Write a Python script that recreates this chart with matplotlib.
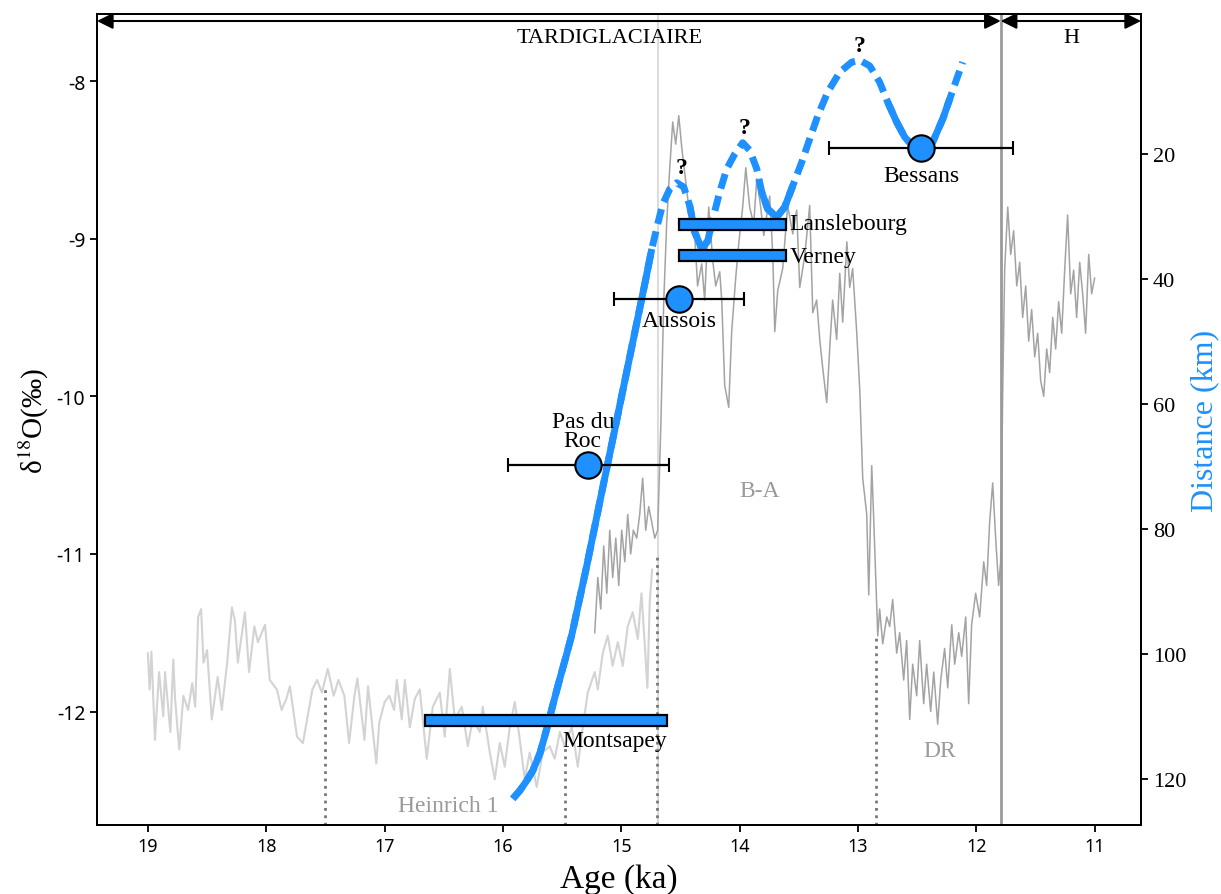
import numpy as np
import matplotlib
matplotlib.use('Agg')
import matplotlib.pyplot as plt

plt.rcParams['mathtext.fontset'] = 'stix'
plt.rcParams['axes.unicode_minus'] = False

BLUE = '#1E90FF'
SERIF = 'Liberation Serif'
SANS = 'Noto Sans'

# d18O record, older part (light grey)
light_age = [19.00, 18.985, 18.97, 18.94, 18.905, 18.87, 18.855, 18.81, 18.785, 18.77,
             18.735, 18.70, 18.66, 18.625, 18.60, 18.575, 18.55, 18.53, 18.50, 18.46,
             18.41, 18.375, 18.33, 18.29, 18.265, 18.24, 18.18, 18.145, 18.10, 18.07,
             18.01, 17.97, 17.91, 17.87, 17.83, 17.80, 17.74, 17.69, 17.65, 17.61,
             17.57, 17.53, 17.48, 17.43, 17.39, 17.34, 17.30, 17.255, 17.23, 17.17,
             17.14, 17.07, 17.045, 17.00, 16.96, 16.92, 16.897, 16.855, 16.829, 16.787,
             16.745, 16.703, 16.644, 16.593, 16.534, 16.492, 16.449, 16.407, 16.348, 16.297,
             16.255, 16.196, 16.171, 16.111, 16.069, 16.027, 15.985, 15.943, 15.900, 15.858,
             15.816, 15.774, 15.715, 15.664, 15.605, 15.563, 15.520, 15.478, 15.419, 15.368,
             15.326, 15.284, 15.225, 15.199, 15.157, 15.115, 15.073, 15.030, 14.988, 14.946,
             14.904, 14.861, 14.83, 14.80, 14.78, 14.76, 14.74]
light_d18o = [-11.63, -11.86, -11.62, -12.18, -11.75, -12.03, -11.75, -12.13, -11.67, -11.92,
              -12.24, -11.90, -11.99, -11.82, -11.97, -11.40, -11.35, -11.69, -11.61, -12.05,
              -11.78, -11.99, -11.69, -11.34, -11.42, -11.69, -11.37, -11.75, -11.46, -11.56,
              -11.45, -11.80, -11.86, -11.99, -11.92, -11.84, -12.16, -12.20, -12.03, -11.86,
              -11.80, -11.88, -11.73, -11.90, -11.80, -11.90, -12.20, -11.90, -11.79, -12.18,
              -11.84, -12.33, -12.07, -11.94, -11.90, -11.99, -11.80, -12.05, -11.80, -12.10,
              -11.92, -11.86, -12.30, -11.97, -11.88, -12.16, -11.73, -12.05, -11.97, -12.22,
              -12.05, -12.13, -11.97, -12.26, -12.43, -12.20, -12.35, -12.10, -11.94, -12.18,
              -12.43, -12.26, -12.48, -12.26, -12.22, -12.30, -12.13, -12.22, -12.10, -12.35,
              -12.10, -11.88, -11.75, -11.86, -11.63, -11.52, -11.71, -11.56, -11.71, -11.46,
              -11.37, -11.54, -11.25, -11.60, -11.85, -11.30, -11.10]

# d18O record, younger part (dark grey)
dark_age = [15.225, 15.199, 15.174, 15.149, 15.123, 15.098, 15.073, 15.047, 15.022, 14.997,
            14.971, 14.946, 14.921, 14.899, 14.870, 14.845, 14.820, 14.794, 14.769, 14.743,
            14.718, 14.693, 14.667, 14.642, 14.617, 14.591, 14.566, 14.541, 14.515, 14.490,
            14.456, 14.431, 14.380, 14.356, 14.321, 14.296, 14.262, 14.228, 14.203, 14.169,
            14.152, 14.127, 14.093, 14.068, 14.034, 14.008, 13.975, 13.949, 13.916, 13.882,
            13.856, 13.823, 13.797, 13.747, 13.721, 13.704, 13.679, 13.637, 13.595, 13.552,
            13.519, 13.493, 13.451, 13.409, 13.383, 13.350, 13.324, 13.299, 13.265, 13.240,
            13.215, 13.181, 13.155, 13.130, 13.095, 13.071, 13.046, 13.012, 12.986, 12.961,
            12.927, 12.910, 12.885, 12.868, 12.843, 12.834, 12.818, 12.792, 12.758, 12.733,
            12.708, 12.674, 12.649, 12.615, 12.590, 12.564, 12.539, 12.505, 12.480, 12.446,
            12.421, 12.387, 12.361, 12.328, 12.302, 12.269, 12.243, 12.209, 12.184, 12.150,
            12.125, 12.091, 12.066, 12.041, 12.007, 11.973, 11.939, 11.914, 11.889, 11.863,
            11.838, 11.813, 11.796, 11.779, 11.762, 11.736, 11.711, 11.686, 11.660, 11.635,
            11.610, 11.584, 11.559, 11.534, 11.508, 11.483, 11.458, 11.432, 11.407, 11.382,
            11.356, 11.331, 11.306, 11.280, 11.255, 11.230, 11.204, 11.179, 11.154, 11.128,
            11.103, 11.078, 11.052, 11.027, 11.002]
dark_d18o = [-11.50, -11.15, -11.35, -10.95, -11.25, -10.85, -11.15, -10.90, -11.20, -10.85,
             -11.05, -10.75, -11.00, -10.85, -10.90, -10.75, -10.52, -10.85, -10.70, -10.80,
             -10.90, -10.85, -10.20, -9.40, -8.90, -8.55, -8.26, -8.40, -8.22, -8.42,
             -8.64, -8.80, -8.98, -9.30, -9.16, -9.39, -8.80, -9.14, -9.30, -9.21,
             -9.39, -9.93, -10.07, -9.59, -9.25, -9.03, -8.80, -8.55, -8.80, -8.91,
             -8.62, -8.80, -8.98, -8.73, -9.10, -9.59, -9.33, -9.19, -8.79, -8.97,
             -8.82, -9.31, -9.11, -8.79, -9.47, -9.39, -9.64, -9.82, -10.04, -9.70,
             -9.39, -9.64, -9.22, -9.53, -9.02, -9.31, -9.19, -9.59, -9.96, -10.52,
             -10.75, -11.26, -10.44, -10.78, -11.31, -11.52, -11.35, -11.57, -11.40, -11.46,
             -11.29, -11.63, -11.50, -11.80, -11.55, -12.05, -11.70, -11.90, -11.55, -11.95,
             -11.70, -12.00, -11.75, -12.08, -11.80, -11.60, -11.85, -11.45, -11.70, -11.50,
             -11.65, -11.40, -11.95, -11.45, -11.25, -11.40, -11.05, -11.20, -10.80, -10.55,
             -10.90, -11.20, -11.05, -10.00, -9.20, -8.80, -9.10, -8.95, -9.30, -9.15,
             -9.50, -9.30, -9.65, -9.45, -9.75, -9.60, -9.90, -10.00, -9.70, -9.85,
             -9.50, -9.70, -9.40, -9.60, -9.20, -8.85, -9.35, -9.20, -9.50, -9.15,
             -9.35, -9.60, -9.10, -9.35, -9.25]

# glacier front distance curve (km)
blue_age = [15.917, 15.858, 15.799, 15.748, 15.689, 15.630, 15.579, 15.520, 15.470, 15.419,
            15.292, 15.166, 15.039, 14.912, 14.802, 14.743, 14.693, 14.650, 14.591, 14.532,
            14.473, 14.422, 14.380, 14.321, 14.270, 14.228, 14.169, 14.110, 14.042, 13.975,
            13.916, 13.856, 13.814, 13.764, 13.688, 13.620, 13.552, 13.476, 13.409, 13.341,
            13.257, 13.155, 13.054, 12.986, 12.902, 12.818, 12.750, 12.674, 12.606, 12.539,
            12.471, 12.370, 12.285, 12.226, 12.167, 12.117]
blue_dist = [123.2, 121.9, 120.3, 118.7, 116.0, 112.0, 108.2, 104.0, 100.6, 97.0,
             85.9, 74.2, 62.6, 50.9, 40.8, 35.2, 31.2, 28.0, 25.6, 24.6,
             25.3, 28.3, 32.5, 35.2, 33.9, 30.4, 26.1, 22.4, 20.0, 18.2,
             19.4, 22.4, 26.1, 28.8, 30.1, 28.5, 25.1, 21.3, 17.6, 13.9,
             10.1, 6.9, 5.3, 5.0, 5.9, 8.5, 11.7, 14.9, 17.3, 18.7,
             19.2, 18.1, 14.4, 11.2, 8.0, 5.3]
solid_spans = [(15.95, 14.74), (14.43, 14.22), (13.82, 13.55), (12.75, 12.22)]

# dated sites
site_names = ['Pas du\nRoc', 'Aussois', 'Bessans']
site_age = [15.28, 14.51, 12.47]
site_err = [0.68, 0.55, 0.78]
site_dist = [69.8, 43.2, 19.0]

moraine_names = ['Lanslebourg', 'Verney', 'Montsapey']
moraine_old = [14.515, 14.515, 16.66]
moraine_young = [13.611, 13.611, 14.617]
moraine_dist = [31.3, 36.3, 110.7]

event_age = [17.5, 15.48, 14.70, 12.85]
event_top = [-11.86, -12.23, -11.0, -11.51]

fig = plt.figure(figsize=(12.21, 8.95), dpi=100)
ax = fig.add_subplot(111)
fig.subplots_adjust(left=0.0794, right=0.9345, bottom=0.0771, top=0.9832)

ax.plot(light_age, light_d18o, color='#d3d3d3', lw=1.5, zorder=1)
ax.plot(dark_age, dark_d18o, color='#a3a3a3', lw=1.1, zorder=2)
ax.axvline(14.69, color='#dcdcdc', lw=1.5, zorder=0)
ax.axvline(11.795, color='#9a9a9a', lw=2, zorder=3)
ax.vlines(event_age, -12.72, event_top, colors='#777777', linestyles=':', lw=2, zorder=3)

ax.set_xlim(19.43, 10.61)
ax.set_ylim(-12.72, -7.575)
ax.set_xticks(range(11, 20))
ax.set_yticks([-12, -11, -10, -9, -8])
ax.set_xlabel('Age (ka)', fontfamily=SERIF, fontsize=24, labelpad=6)
ax.set_ylabel(r'δ$^{18}$O(‰)', fontfamily=SERIF, fontsize=21, labelpad=4)
ax.tick_params(direction='out', length=5, width=1.3)
for lab in ax.get_xticklabels():
    lab.set_fontfamily(SANS)
    lab.set_fontsize(13)
for lab in ax.get_yticklabels():
    lab.set_fontfamily(SANS)
    lab.set_fontsize(14)
for sp in ax.spines.values():
    sp.set_linewidth(1.4)

ax2 = ax.twinx()
ax2.set_ylim(127.4, -2.4)
ax2.set_yticks([20, 40, 60, 80, 100, 120])
ax2.tick_params(direction='out', length=5, width=1.3)
for lab in ax2.get_yticklabels():
    lab.set_fontfamily(SERIF)
    lab.set_fontsize(16)
ax2.set_ylabel('Distance (km)', fontfamily=SERIF, fontsize=23, color=BLUE, labelpad=3)
for sp in ax2.spines.values():
    sp.set_linewidth(1.4)

# distance curve: dashed everywhere, solid where constrained
b_age = np.array(blue_age)
b_dist = np.array(blue_dist)
ax2.plot(b_age, b_dist, color=BLUE, lw=5, linestyle=(0, (2.2, 1.1)),
         dash_capstyle='butt', zorder=4)
for hi, lo in solid_spans:
    m = (b_age <= hi) & (b_age >= lo)
    ax2.plot(b_age[m], b_dist[m], color=BLUE, lw=5, solid_capstyle='butt',
             solid_joinstyle='round', zorder=5)

for old, young, d in zip(moraine_old, moraine_young, moraine_dist):
    ax2.barh(d, young - old, left=old, height=1.8, color=BLUE, edgecolor='black',
             lw=1.6, zorder=6)

ax2.errorbar(site_age, site_dist, xerr=site_err, fmt='o', color='black', ecolor='black',
             elinewidth=1.6, capsize=5, capthick=1.6, markersize=19,
             markerfacecolor=BLUE, markeredgecolor='black', markeredgewidth=1.5, zorder=7)

lab_kw = dict(fontfamily=SERIF, fontsize=17, color='black', zorder=8)
ax2.text(13.578, 31.2, 'Lanslebourg', ha='left', va='center', **lab_kw)
ax2.text(13.578, 36.4, 'Verney', ha='left', va='center', **lab_kw)
ax2.text(14.61, 113.9, 'Montsapey', ha='right', va='center', **lab_kw)
ax2.text(14.507, 46.7, 'Aussois', ha='center', va='center', **lab_kw)
ax2.text(15.326, 64.3, 'Pas du\nRoc', ha='center', va='center', linespacing=0.85, **lab_kw)
ax2.text(12.463, 23.5, 'Bessans', ha='center', va='center', **lab_kw)

for qa, qd in [(14.49, 22.1), (13.958, 15.7), (12.986, 2.7)]:
    ax2.text(qa, qd, '?', ha='center', va='center', fontfamily=SERIF, fontsize=17,
             fontweight='bold', zorder=8)

grey_kw = dict(fontfamily=SERIF, fontsize=17, color='#9a9a9a', ha='center', va='center')
ax2.text(16.466, 124.2, 'Heinrich 1', **grey_kw)
ax2.text(13.831, 73.9, 'B-A', **grey_kw)
ax2.text(12.311, 115.5, 'DR', **grey_kw)

# period arrows at the top
trans = ax.get_xaxis_transform()
arrow = dict(arrowstyle='<|-|>', color='black', lw=1.5, mutation_scale=24,
             shrinkA=0, shrinkB=0)
ax.annotate('', xy=(19.43, 0.9914), xytext=(11.795, 0.9914), xycoords=trans,
            textcoords=trans, arrowprops=arrow)
ax.annotate('', xy=(11.795, 0.9914), xytext=(10.61, 0.9914), xycoords=trans,
            textcoords=trans, arrowprops=arrow)
ax.text(15.098, 0.9716, 'TARDIGLACIAIRE', transform=trans, ha='center', va='center',
        fontfamily=SERIF, fontsize=16)
ax.text(11.196, 0.9716, 'H', transform=trans, ha='center', va='center',
        fontfamily=SERIF, fontsize=16)

fig.savefig('out.png', dpi=100)
